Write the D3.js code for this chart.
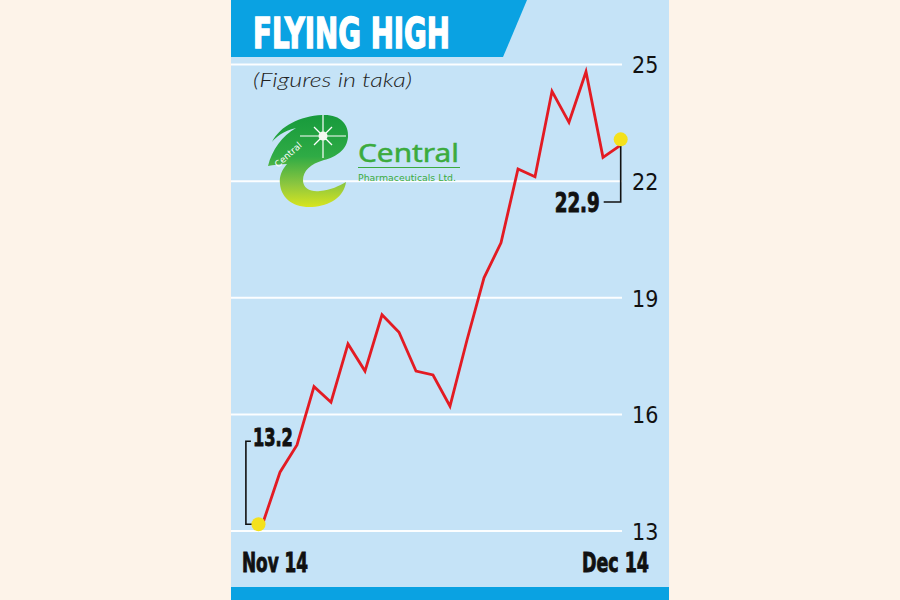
<!DOCTYPE html>
<html>
<head>
<meta charset="utf-8">
<script src="https://cdn.jsdelivr.net/npm/d3@7/dist/d3.min.js"></script>
<style>
  html, body { margin: 0; padding: 0; background: #fdf3e9; }
  svg { display: block; }
</style>
</head>
<body>
<script>
// ---------- data ----------
const dateLabels = ["Nov 14", "Dec 14"];
const prices = [13.2, 14.5, 15.2, 16.7, 16.3, 17.8, 17.1, 18.55, 18.1, 17.1, 17.0, 16.2,
                17.9, 19.5, 20.4, 22.3, 22.1, 24.3, 23.5, 24.8, 22.6, 22.9];
const tickValues = [13, 16, 19, 22, 25];
const tickLabels = ["13", "16", "19", "22", "25"];
const title = "FLYING HIGH";
const subtitle = "(Figures in taka)";

// ---------- layout ----------
const W = 900, H = 600;
const panel = { left: 231, right: 669 };
const plot = { left: 263, right: 620, top: 64, bottom: 530.5, gridRight: 622 };

const svg = d3.select("body").append("svg").attr("width", W).attr("height", H);

svg.append("rect").attr("width", W).attr("height", H).attr("fill", "#fdf3e9");
svg.append("rect").attr("x", panel.left).attr("y", 0)
  .attr("width", panel.right - panel.left).attr("height", H).attr("fill", "#c5e3f7");
svg.append("rect").attr("x", panel.left).attr("y", 587)
  .attr("width", panel.right - panel.left).attr("height", H - 587).attr("fill", "#0aa2e2");
svg.append("path")
  .attr("d", `M${panel.left},0 L527,0 L503,57 L${panel.left},57 Z`)
  .attr("fill", "#0aa2e2");
svg.append("text").text(title)
  .attr("x", 253).attr("y", 48)
  .attr("font-family", "'Liberation Sans Narrow', 'DejaVu Sans Condensed', sans-serif")
  .attr("font-weight", "bold").attr("font-size", 42)
  .attr("textLength", 197).attr("lengthAdjust", "spacingAndGlyphs")
  .attr("fill", "#fff").attr("stroke", "#fff").attr("stroke-width", 1.4);

svg.append("text").text(subtitle)
  .attr("x", 253).attr("y", 87)
  .attr("font-family", "Lato, 'Open Sans', sans-serif")
  .attr("font-style", "italic").attr("font-weight", 300).attr("font-size", 20)
  .attr("textLength", 159).attr("lengthAdjust", "spacingAndGlyphs")
  .attr("fill", "#222");

// ---------- scales ----------
const x = d3.scaleLinear().domain([0, prices.length - 1]).range([plot.left, plot.right]);
const y = d3.scaleLinear().domain([13, 25]).range([plot.bottom, plot.top]);

const axis = d3.axisRight(y)
  .tickValues(tickValues)
  .tickFormat((d, i) => tickLabels[i])
  .tickSize(-(plot.gridRight - panel.left))
  .tickPadding(10);
const gAxis = svg.append("g").attr("transform", `translate(${plot.gridRight},0)`).call(axis);
gAxis.select(".domain").remove();
gAxis.selectAll(".tick line").attr("stroke", "#ffffff").attr("stroke-width", 2).attr("stroke-opacity", 0.95);
gAxis.selectAll(".tick text")
  .attr("font-family", "'Liberation Sans Narrow', 'DejaVu Sans Condensed', sans-serif")
  .attr("font-size", 23).attr("fill", "#111").attr("dy", "0.38em");

// ---------- logo ----------
const logo = svg.append("g");
const defs = svg.append("defs");
const grad = defs.append("linearGradient").attr("id", "lg").attr("x1", 0).attr("y1", 0).attr("x2", 0).attr("y2", 1);
grad.append("stop").attr("offset", "0%").attr("stop-color", "#179a3c");
grad.append("stop").attr("offset", "45%").attr("stop-color", "#2fab45");
grad.append("stop").attr("offset", "75%").attr("stop-color", "#8cc63f");
grad.append("stop").attr("offset", "100%").attr("stop-color", "#d8e51f");
logo.append("path")
  .attr("d", "M268,166 C272,150 282,136 296,128 C283,131 276,137 272,142 C280,126 300,116 322,115 C340,114 349,124 348,137 C347,150 336,157 324,160 C310,164 303,171 303,180 C303,189 311,192 320,191 C331,190 339,186 346,182 C344,197 330,206 312,207 C292,208 281,197 280,184 C279,176 282,170 287,164 C280,164 273,165 268,166 Z")
  .attr("fill", "url(#lg)");
const sx = 323, sy = 136;
const spark = logo.append("g").attr("stroke", "#ffffff").attr("stroke-width", 1.2);
spark.append("line").attr("x1", sx - 23).attr("y1", sy).attr("x2", sx + 23).attr("y2", sy);
spark.append("line").attr("x1", sx).attr("y1", sy - 21).attr("x2", sx).attr("y2", sy + 22);
spark.append("line").attr("x1", sx - 9).attr("y1", sy - 9).attr("x2", sx + 9).attr("y2", sy + 9);
spark.append("line").attr("x1", sx - 9).attr("y1", sy + 9).attr("x2", sx + 9).attr("y2", sy - 9);
logo.append("circle").attr("cx", sx).attr("cy", sy).attr("r", 4.5).attr("fill", "#f4f8f0");
logo.append("text").text("Central")
  .attr("transform", "translate(278,168) rotate(-42)")
  .attr("font-family", "'DejaVu Sans', sans-serif").attr("font-size", 9)
  .attr("fill", "#ffffff");
logo.append("text").text("Central")
  .attr("x", 358).attr("y", 162)
  .attr("font-family", "'Noto Sans', 'DejaVu Sans', sans-serif").attr("font-size", 26)
  .attr("textLength", 101).attr("lengthAdjust", "spacingAndGlyphs")
  .attr("fill", "#3bab3e").attr("stroke", "#3bab3e").attr("stroke-width", 0.5);
logo.append("line").attr("x1", 358).attr("x2", 460).attr("y1", 167.5).attr("y2", 167.5)
  .attr("stroke", "#3bab3e").attr("stroke-width", 1.2);
logo.append("text").text("Pharmaceuticals Ltd.")
  .attr("x", 358).attr("y", 181)
  .attr("font-family", "'DejaVu Sans', sans-serif").attr("font-size", 9)
  .attr("textLength", 98).attr("lengthAdjust", "spacingAndGlyphs")
  .attr("fill", "#3bab3e");

// ---------- line ----------
const line = d3.line().x((d, i) => x(i)).y(d => y(d));
svg.append("path").datum(prices)
  .attr("d", line)
  .attr("fill", "none").attr("stroke", "#e31b23").attr("stroke-width", 2.8)
  .attr("stroke-linejoin", "miter");

// ---------- annotations ----------
const boldFont = "'Liberation Sans Narrow', 'DejaVu Sans Condensed', sans-serif";
const last = prices.length - 1;
const p0 = { x: x(0) - 4.5, y: y(prices[0]) + 1.5 };
const p1 = { x: x(last) + 0.7, y: y(prices[last]) - 6.3 };

const b0x = p0.x - 12.6, b0top = p0.y - 83;
svg.append("path")
  .attr("d", `M${b0x + 5},${b0top} H${b0x} V${p0.y} H${p0.x}`)
  .attr("fill", "none").attr("stroke", "#111").attr("stroke-width", 1.6);
svg.append("text").text(d3.format(".1f")(prices[0]))
  .attr("x", b0x + 7).attr("y", b0top + 4.5)
  .attr("font-family", boldFont).attr("font-weight", "bold").attr("font-size", 25)
  .attr("textLength", 40).attr("lengthAdjust", "spacingAndGlyphs")
  .attr("fill", "#111").attr("stroke", "#111").attr("stroke-width", 0.9);

const b1bottom = 202;
svg.append("path")
  .attr("d", `M${p1.x},${p1.y} V${b1bottom} H${p1.x - 17}`)
  .attr("fill", "none").attr("stroke", "#111").attr("stroke-width", 1.6);
svg.append("text").text(d3.format(".1f")(prices[last]))
  .attr("x", p1.x - 21).attr("y", 211.5).attr("text-anchor", "end")
  .attr("font-family", boldFont).attr("font-weight", "bold").attr("font-size", 27)
  .attr("textLength", 45).attr("lengthAdjust", "spacingAndGlyphs")
  .attr("fill", "#111").attr("stroke", "#111").attr("stroke-width", 0.9);

svg.selectAll("circle.endpt").data([p0, p1]).enter().append("circle")
  .attr("class", "endpt")
  .attr("cx", d => d.x).attr("cy", d => d.y).attr("r", 7)
  .attr("fill", "#f4e11c");

svg.append("text").text(dateLabels[0])
  .attr("x", 242).attr("y", 572)
  .attr("font-family", boldFont).attr("font-weight", "bold").attr("font-size", 27)
  .attr("textLength", 66).attr("lengthAdjust", "spacingAndGlyphs")
  .attr("fill", "#111").attr("stroke", "#111").attr("stroke-width", 0.9);
svg.append("text").text(dateLabels[1])
  .attr("x", 649).attr("y", 572).attr("text-anchor", "end")
  .attr("font-family", boldFont).attr("font-weight", "bold").attr("font-size", 27)
  .attr("textLength", 67).attr("lengthAdjust", "spacingAndGlyphs")
  .attr("fill", "#111").attr("stroke", "#111").attr("stroke-width", 0.9);
</script>
</body>
</html>
